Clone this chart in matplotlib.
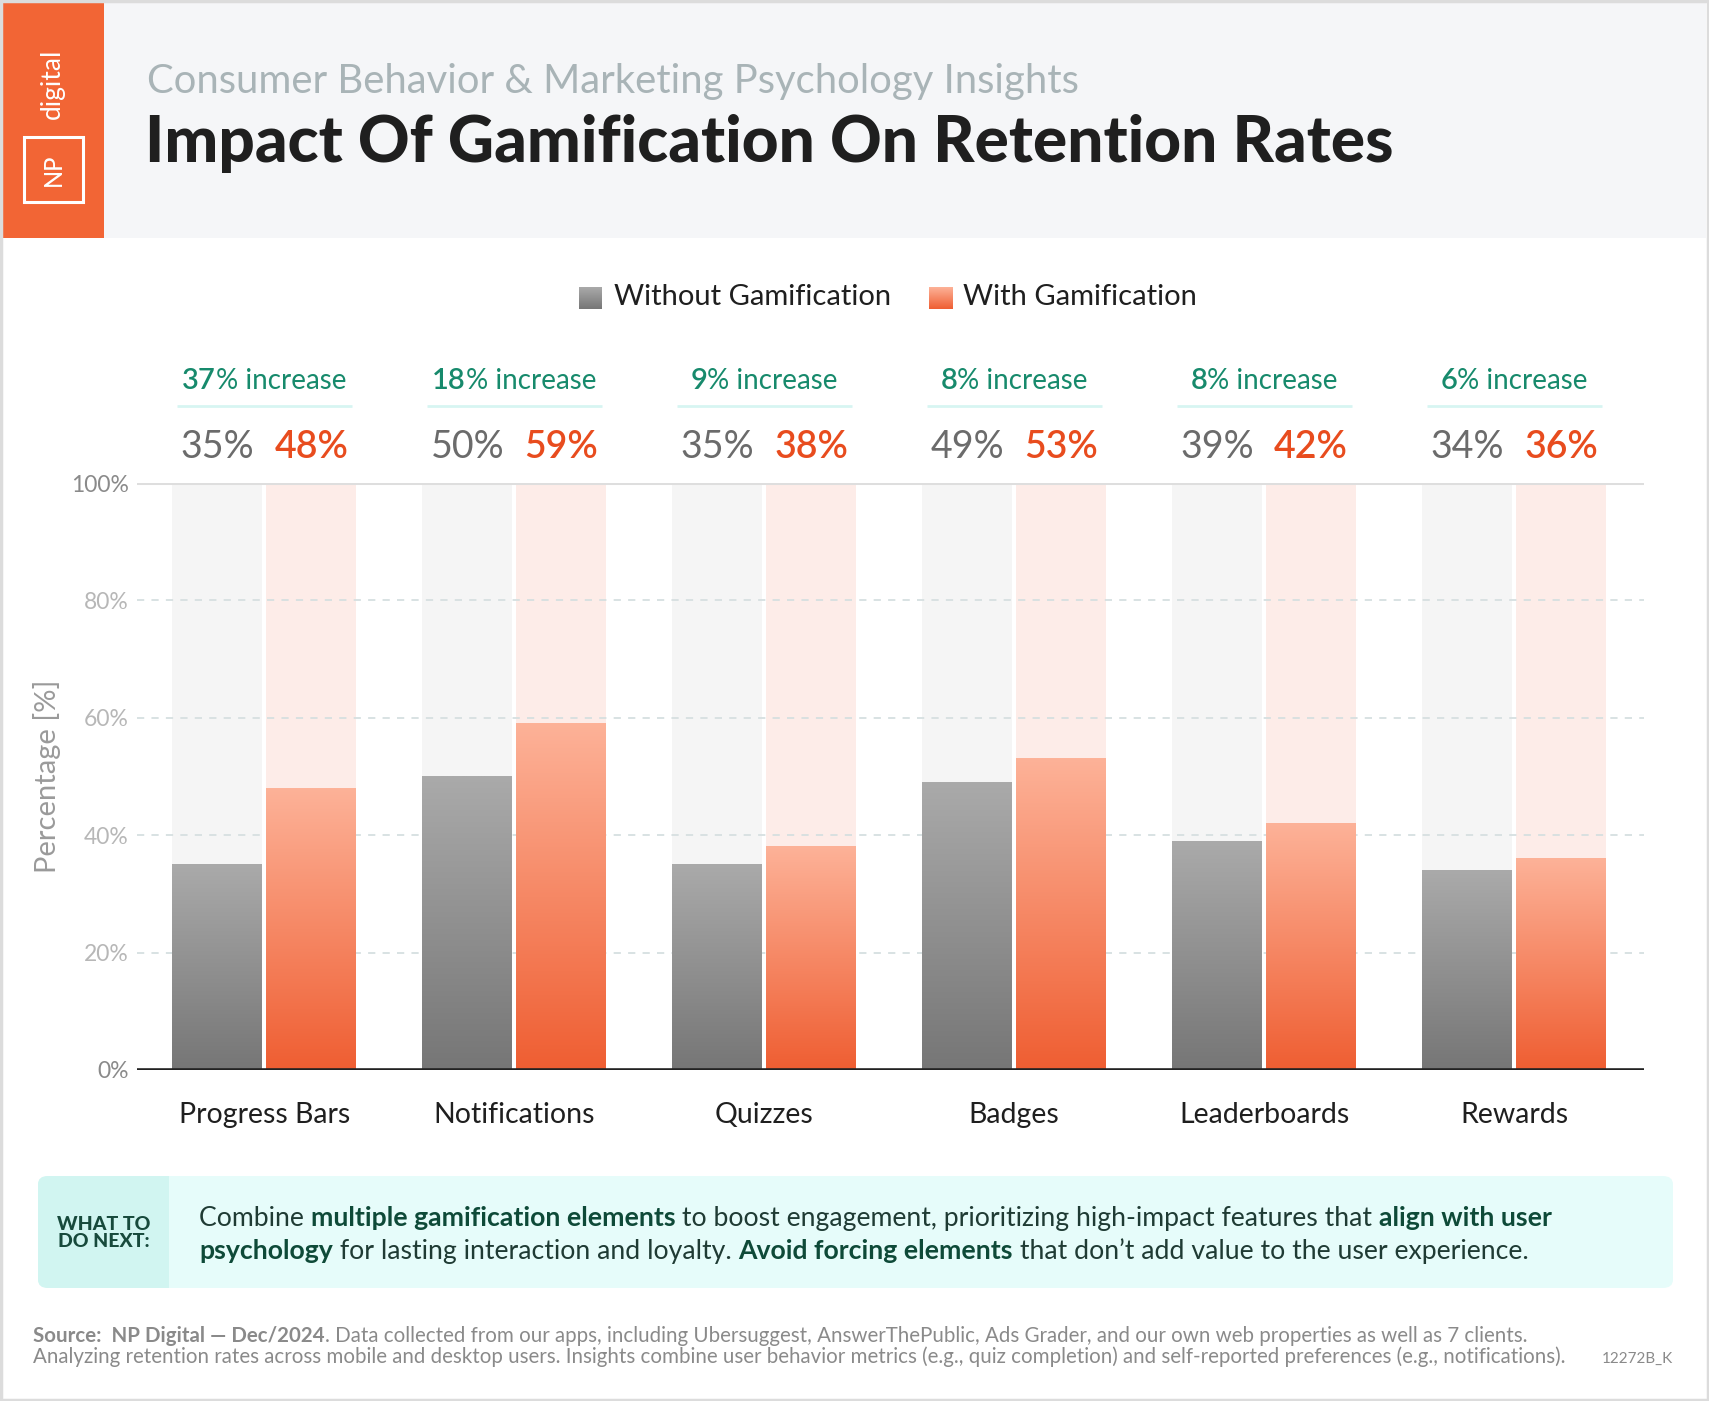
import matplotlib
matplotlib.use("Agg")
import matplotlib.pyplot as plt
import numpy as np
from matplotlib.patches import Rectangle, FancyBboxPatch
from matplotlib.colors import LinearSegmentedColormap

# ---------------- data ----------------
categories = ["Progress Bars", "Notifications", "Quizzes", "Badges", "Leaderboards", "Rewards"]
without_gam = [35, 50, 35, 49, 39, 34]
with_gam = [48, 59, 38, 53, 42, 36]
increase_pct = [37, 18, 9, 8, 8, 6]
y_ticks = [0, 20, 40, 60, 80, 100]
y_tick_labels = ["0%", "20%", "40%", "60%", "80%", "100%"]
series_names = ["Without Gamification", "With Gamification"]

W, H = 1709, 1401
FONT = "Lato"
plt.rcParams["font.family"] = [FONT, "DejaVu Sans"]

fig = plt.figure(figsize=(W / 100, H / 100), dpi=100)
fig.patch.set_facecolor("white")

def fx(px):
    return px / W

def fy(py):
    return 1 - py / H

# ---------- outer border ----------
fig.add_artist(Rectangle((fx(1), fy(H - 1)), fx(W - 2), 1 - 2 / H, transform=fig.transFigure,
                         fill=False, edgecolor="#dcdcdc", linewidth=2.5, zorder=10))

# ---------- header ----------
fig.add_artist(Rectangle((fx(3), fy(238)), fx(W - 6), (238 - 3) / H, transform=fig.transFigure,
                         facecolor="#f5f6f8", edgecolor="none", zorder=0))
fig.add_artist(Rectangle((fx(3), fy(238)), fx(101), (238 - 3) / H, transform=fig.transFigure,
                         facecolor="#f26535", edgecolor="none", zorder=1))
fig.add_artist(Rectangle((fx(24), fy(202)), fx(59), (202 - 137) / H, transform=fig.transFigure,
                         fill=False, edgecolor="white", linewidth=2.2, zorder=2))
fig.text(fx(53.5), fy(169.5), "NP", rotation=90, color="white", fontsize=17, fontweight="medium",
         ha="center", va="center", zorder=3)
fig.text(fx(52), fy(84), "digital", rotation=90, color="white", fontsize=19,
         ha="center", va="center", zorder=3)

fig.text(fx(147), fy(93), "Consumer Behavior & Marketing Psychology Insights",
         color="#a9b4b7", fontsize=28.8, fontweight="normal", ha="left", va="baseline")
fig.text(fx(145), fy(162), "Impact Of Gamification On Retention Rates",
         color="#1f1f1f", fontsize=46, fontweight="black", ha="left", va="baseline")

# ---------- axes ----------
ax_l, ax_r, ax_t, ax_b = 137, 1644, 483, 1070
ax = fig.add_axes([fx(ax_l), fy(ax_b), (ax_r - ax_l) / W, (ax_b - ax_t) / H])
ax.set_facecolor("none")

x = np.arange(len(categories))
bw = 0.36
off = 0.188

ax.bar(x - off, [100] * len(x), width=bw, color="#f5f5f5", zorder=0, linewidth=0)
ax.bar(x + off, [100] * len(x), width=bw, color="#fdece8", zorder=0, linewidth=0)

bars_g = ax.bar(x - off, without_gam, width=bw, color="none", linewidth=0, zorder=2)
bars_o = ax.bar(x + off, with_gam, width=bw, color="none", linewidth=0, zorder=2)

cmap_g = LinearSegmentedColormap.from_list("g", ["#767676", "#aaaaaa"])
cmap_o = LinearSegmentedColormap.from_list("o", ["#ef5e32", "#fdb298"])
grad = np.linspace(0, 1, 256).reshape(-1, 1)
for bars, cm in ((bars_g, cmap_g), (bars_o, cmap_o)):
    for b in bars:
        x0, y0 = b.get_x(), b.get_y()
        ax.imshow(grad, extent=[x0, x0 + b.get_width(), y0, y0 + b.get_height()],
                  origin="lower", aspect="auto", cmap=cm, zorder=2)

for t in y_ticks[1:-1]:
    ax.axhline(t, color="#d6dfe0", linestyle=(0, (4, 4)), linewidth=1.3, zorder=1)
ax.axhline(100, color="#dedede", linewidth=2.2, zorder=1)
ax.axhline(0, color="#222222", linewidth=2.6, zorder=3)

ax.set_xlim(-0.51, 5.52)
ax.set_ylim(0, 100)
ax.set_yticks(y_ticks)
ax.set_yticklabels(y_tick_labels)
for lbl, t in zip(ax.get_yticklabels(), y_ticks):
    lbl.set_color("#8a8a8a" if t in (0, 100) else "#b7b7b7")
    lbl.set_fontsize(16.5)
ax.tick_params(axis="y", length=0, pad=6)
ax.set_xticks(x)
ax.set_xticklabels(categories, fontsize=20.5, color="#1f1f1f")
ax.tick_params(axis="x", length=0, pad=23)
for s in ax.spines.values():
    s.set_visible(False)
fig.text(fx(47), fy(776), "Percentage [%]", rotation=90, fontsize=21, color="#9a9a9a",
         ha="center", va="center")

renderer = fig.canvas.get_renderer()

# annotations above bars
for i in range(len(categories)):
    ax.text(x[i] - off, 106.1, f"{without_gam[i]}%", ha="center", va="center",
            fontsize=27, color="#6b6b6b", clip_on=False)
    ax.text(x[i] + off, 106.1, f"{with_gam[i]}%", ha="center", va="center",
            fontsize=27, color="#e84c1e", fontweight="semibold", clip_on=False)
    cx_px, cy_px = ax.transData.transform((x[i], 117.4))
    t1 = fig.text(0, 0, f"{increase_pct[i]}", fontsize=21, fontweight="semibold", color="#178a6c")
    t2 = fig.text(0, 0, "% increase", fontsize=20, color="#178a6c")
    w1 = t1.get_window_extent(renderer).width
    w2 = t2.get_window_extent(renderer).width
    start = cx_px - (w1 + w2) / 2
    t1.set_position((start / W, cy_px / H)); t1.set_va("center"); t1.set_ha("left")
    t2.set_position(((start + w1) / W, cy_px / H)); t2.set_va("center"); t2.set_ha("left")
    ax.plot([x[i] - 0.35, x[i] + 0.35], [113.2, 113.2], color="#d7f5f2", linewidth=2,
            clip_on=False, solid_capstyle="butt")

# ---------- legend ----------
leg_items = [(579, 614, cmap_g, series_names[0]), (929, 963, cmap_o, series_names[1])]
for sx, tx, cm, name in leg_items:
    lax = fig.add_axes([fx(sx), fy(309), 23 / W, 22 / H])
    lax.imshow(grad, origin="lower", aspect="auto", cmap=cm, extent=[0, 1, 0, 1])
    lax.axis("off")
    fig.text(fx(tx), fy(297), name, fontsize=21, color="#1f1f1f", ha="left", va="center")

# ---------- callout box ----------
fig.add_artist(FancyBboxPatch((fx(38), fy(1288)), (1673 - 38) / W, (1288 - 1176) / H,
                              boxstyle="round,pad=0,rounding_size=0.006",
                              transform=fig.transFigure, facecolor="#e6fcfa",
                              edgecolor="none", zorder=0))
fig.add_artist(FancyBboxPatch((fx(38), fy(1288)), (169 - 38) / W, (1288 - 1176) / H,
                              boxstyle="round,pad=0,rounding_size=0.006",
                              transform=fig.transFigure, facecolor="#d1f5f1",
                              edgecolor="none", zorder=0))
fig.add_artist(Rectangle((fx(150), fy(1288)), 19 / W, (1288 - 1176) / H,
                         transform=fig.transFigure, facecolor="#d1f5f1", edgecolor="none", zorder=0))
fig.text(fx(104), fy(1233), "WHAT TO\nDO NEXT:", fontsize=14, fontweight="black",
         color="#174a3c", ha="center", va="center", linespacing=1.05)

def rich_line(px, py, pieces, size, color_reg, color_bold):
    cur = px
    for txt, bold in pieces:
        t = fig.text(fx(cur), fy(py), txt, fontsize=size,
                     fontweight="bold" if bold else "normal",
                     color=color_bold if bold else color_reg, ha="left", va="baseline")
        bb = t.get_window_extent(renderer=renderer)
        cur += bb.width

line1 = [("Combine ", False), ("multiple gamification elements", True),
         (" to boost engagement, prioritizing high-impact features that ", False),
         ("align with user", True)]
line2 = [("psychology", True), (" for lasting interaction and loyalty. ", False),
         ("Avoid forcing elements", True), (" that don\u2019t add value to the user experience.", False)]
rich_line(199, 1226, line1, 19.2, "#1f3b34", "#0e4a38")
rich_line(199, 1259, line2, 19.2, "#1f3b34", "#0e4a38")

# ---------- footer ----------
foot1 = [("Source:  NP Digital \u2014 Dec/2024", True),
         (". Data collected from our apps, including Ubersuggest, AnswerThePublic, Ads Grader, and our own web properties as well as 7 clients.", False)]
rich_line(33, 1342, foot1, 14.8, "#8a8a8a", "#8a8a8a")
fig.text(fx(33), fy(1363), "Analyzing retention rates across mobile and desktop users. Insights combine user behavior metrics (e.g., quiz completion) and self-reported preferences (e.g., notifications).",
         fontsize=14.8, color="#8a8a8a", ha="left", va="baseline")
fig.text(fx(1673), fy(1363), "12272B_K", fontsize=11, color="#8a8a8a", ha="right", va="baseline")

fig.savefig("out.png", dpi=100, facecolor="white")
